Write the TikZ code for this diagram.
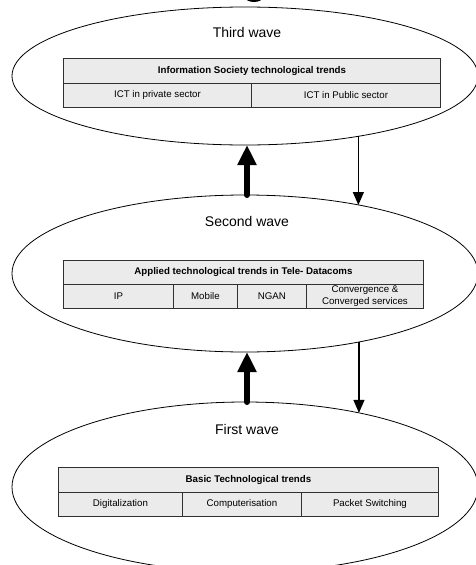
\documentclass[tikz,border=0pt]{standalone}
\usepackage{fontspec}
\setmainfont{Liberation Sans}
\usetikzlibrary{arrows.meta,shapes.geometric}
\definecolor{cellfill}{HTML}{EBEBEB}
\definecolor{cellline}{HTML}{303030}

\begin{document}
\begin{tikzpicture}[x=1pt,y=-1pt,
  wave/.style={ellipse, draw=black, line width=0.8pt, inner sep=0pt, outer sep=0pt, minimum width=466pt},
  wavetitle/.style={font=\fontsize{14}{16}\selectfont},
  cell/.style={draw=cellline, fill=cellfill, line width=0.9pt, inner sep=0pt, anchor=north west,
    align=center, font=\fontsize{9.7}{12}\selectfont},
  head/.style={cell, font=\bfseries\fontsize{9.7}{12}\selectfont},
  bigarrow/.style={line width=6pt, line cap=round, -{Triangle[length=20pt,width=18pt]}},
  thinarrow/.style={line width=1.3pt, -{Triangle[length=13pt,width=11pt]}}]

\useasboundingbox (0,0) rectangle (476,565);
\clip (0,0) rectangle (476,565);

% descender of the heading above the frame
\fill (254,-3) ellipse [x radius=9pt, y radius=5pt];

% the three waves
\node[wave, minimum height=138pt] (w3) at (245,76) {};
\node[wave, minimum height=157pt] (w2) at (245,273.5) {};
\node[wave, minimum height=170pt] (w1) at (245,487) {};

\node[wavetitle] (t3) at (247,32) {Third wave};
\node[wavetitle] (t2) at (247,221) {Second wave};
\node[wavetitle] (t1) at (247,429) {First wave};

% third wave table
\node[head, minimum width=377pt, minimum height=25pt] (h3) at (63,58) {Information Society technological trends};
\node[cell, minimum width=188pt, minimum height=24pt] (c31) at (63,83) {ICT in private sector};
\node[cell, minimum width=189pt, minimum height=24pt] (c32) at (251,83) {ICT in Public sector};

% second wave table
\node[head, minimum width=360pt, minimum height=24pt] (h2) at (63,260) {Applied technological trends in Tele- Datacoms};
\node[cell, minimum width=110pt, minimum height=24pt] (c21) at (63,284) {IP};
\node[cell, minimum width=64pt, minimum height=24pt] (c22) at (173,284) {Mobile};
\node[cell, minimum width=69pt, minimum height=24pt] (c23) at (237,284) {NGAN};
\node[cell, minimum width=117pt, minimum height=24pt] (c24) at (306,284) {Convergence \&\\Converged services};

% first wave table
\node[head, minimum width=380pt, minimum height=25pt] (h1) at (58,467) {Basic Technological trends};
\node[cell, minimum width=124pt, minimum height=24pt] (c11) at (58,492) {Digitalization};
\node[cell, minimum width=119pt, minimum height=24pt] (c12) at (182,492) {Computerisation};
\node[cell, minimum width=137pt, minimum height=24pt] (c13) at (301,492) {Packet Switching};

% arrows between the waves
\draw[bigarrow] ([xshift=2pt]w2.north) -- ([xshift=2pt]w3.south);
\draw[thinarrow] (w3.-28) -- (w3.-28 |- w2.31);
\draw[bigarrow] ([xshift=2pt]w1.north) -- ([xshift=2pt]w2.south);
\draw[thinarrow] (w2.-31) -- (w2.-31 |- w1.33);
\end{tikzpicture}
\end{document}
